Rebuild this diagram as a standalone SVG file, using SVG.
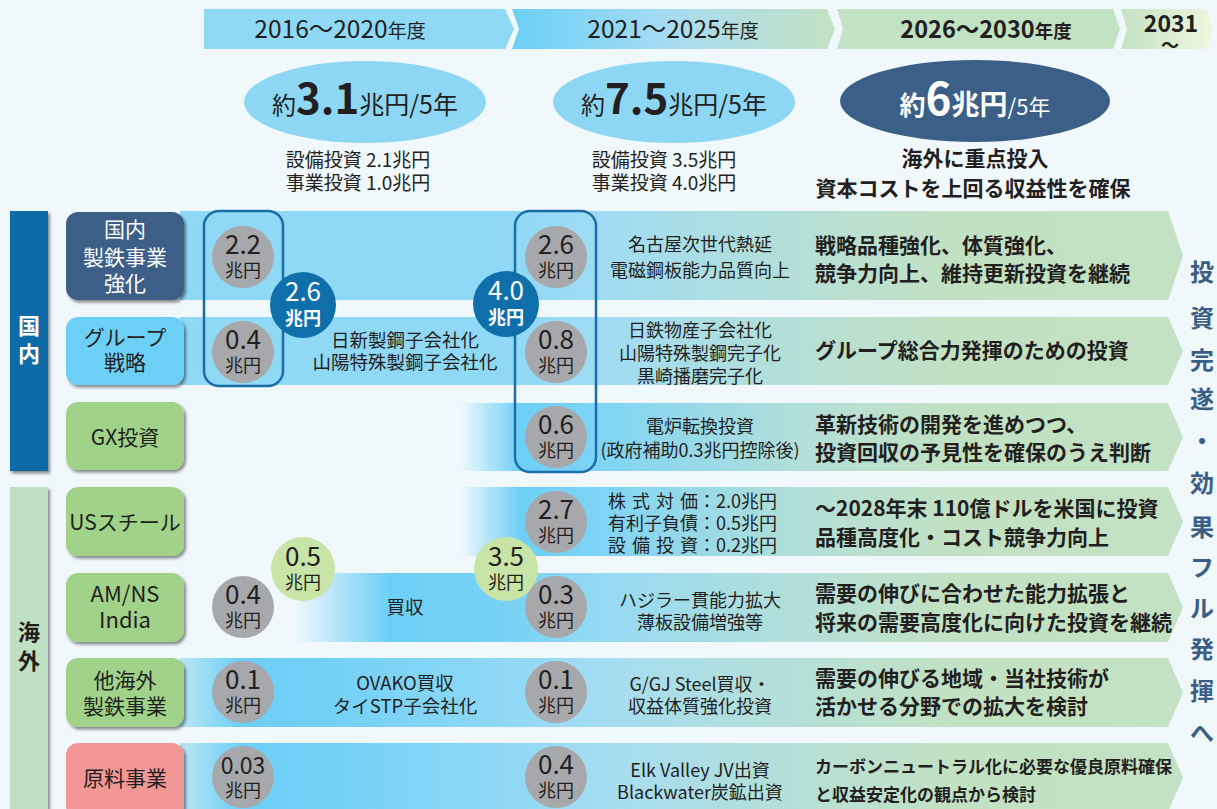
<svg xmlns="http://www.w3.org/2000/svg" width="1217" height="809" viewBox="0 0 1217 809">
<defs>
<style>
.t{font-family:'Noto Sans CJK JP','Noto Sans',sans-serif;fill:#231f20}
.b{font-weight:700}
.c{text-anchor:middle}
.w{fill:#ffffff}
.bub{fill:#a7a8ab}
.gb{fill:#c8e4a6}
.db{fill:#0f6fab}
.grp{fill:none;stroke:#1a6ea8;stroke-width:2.5}
.lbl{filter:url(#sh)}
.n{font-size:26px}
.u{font-size:18px}
</style>
<filter id="sh" x="-10%" y="-10%" width="130%" height="130%"><feDropShadow dx="2" dy="2.5" stdDeviation="1.8" flood-color="#000" flood-opacity="0.45"/></filter>
<linearGradient id="hg2" gradientUnits="userSpaceOnUse" x1="512" y1="0" x2="835" y2="0"><stop offset="0" stop-color="#6dcff6"/><stop offset="0.5" stop-color="#a8dcf2"/><stop offset="1" stop-color="#c3e2c4"/></linearGradient>
<linearGradient id="hg4" gradientUnits="userSpaceOnUse" x1="1121" y1="0" x2="1213" y2="0"><stop offset="0" stop-color="#c3e2c4"/><stop offset="1" stop-color="#eff6df"/></linearGradient>
<linearGradient id="gA" gradientUnits="userSpaceOnUse" x1="185" y1="0" x2="1183" y2="0"><stop offset="0" stop-color="#8fd8f6"/><stop offset="0.32" stop-color="#8fd8f6"/><stop offset="0.42" stop-color="#a0dcf3"/><stop offset="0.62" stop-color="#b6dfd6"/><stop offset="0.77" stop-color="#c2e1c3"/><stop offset="1" stop-color="#c3e2c4"/></linearGradient>
<linearGradient id="gB" gradientUnits="userSpaceOnUse" x1="185" y1="0" x2="1183" y2="0"><stop offset="0.2756" stop-color="#6dcff6" stop-opacity="0"/><stop offset="0.336" stop-color="#6dcff6"/><stop offset="0.42" stop-color="#80d4f5"/><stop offset="0.62" stop-color="#b4dfd8"/><stop offset="0.77" stop-color="#c2e1c3"/><stop offset="1" stop-color="#c3e2c4"/></linearGradient>
<linearGradient id="gC" gradientUnits="userSpaceOnUse" x1="185" y1="0" x2="1183" y2="0"><stop offset="0.108" stop-color="#6dcff6" stop-opacity="0"/><stop offset="0.205" stop-color="#6dcff6"/><stop offset="0.32" stop-color="#76d1f5"/><stop offset="0.42" stop-color="#96daf4"/><stop offset="0.62" stop-color="#b4dfd8"/><stop offset="0.77" stop-color="#c2e1c3"/><stop offset="1" stop-color="#c3e2c4"/></linearGradient>
<linearGradient id="gD" gradientUnits="userSpaceOnUse" x1="185" y1="0" x2="1183" y2="0"><stop offset="0" stop-color="#b5e4f6"/><stop offset="0.055" stop-color="#6dcff6"/><stop offset="0.135" stop-color="#72d0f6"/><stop offset="0.32" stop-color="#8fd8f6"/><stop offset="0.42" stop-color="#a5ddf2"/><stop offset="0.62" stop-color="#b6dfd6"/><stop offset="0.77" stop-color="#c2e1c3"/><stop offset="1" stop-color="#c3e2c4"/></linearGradient>
</defs>
<rect width="1217" height="809" fill="#f1f8fc"/>

<g id="header">
<polygon points="204,9 505,9 514,29 505,49 204,49" fill="#8fd8f6"/>
<polygon points="512,9 827,9 835,29 827,49 512,49 519,29" fill="url(#hg2)"/>
<polygon points="837,9 1113,9 1120,29 1113,49 837,49 843,29" fill="#c2e2c4"/>
<polygon points="1121,9 1207,9 1213,29 1207,49 1121,49 1127,29" fill="url(#hg4)"/>
<text class="t c" x="340" y="38" font-size="24.5">2016～2020<tspan font-size="19">年度</tspan></text>
<text class="t c" x="673" y="38" font-size="24.5">2021～2025<tspan font-size="19">年度</tspan></text>
<text class="t c b" x="986" y="38" font-size="23.5">2026～2030<tspan font-size="18.5">年度</tspan></text>
<text class="t c b" x="1171" y="32" font-size="23">2031</text>
<text class="t c b" x="1170" y="52" font-size="18">～</text>
</g>

<g id="period-2016">
<ellipse cx="365" cy="102" rx="121" ry="41" fill="#8dd7f5"/>
<text class="t c" x="365" y="114"><tspan font-size="24">約</tspan><tspan font-size="42" font-weight="700">3.1</tspan><tspan font-size="25">兆円/5年</tspan></text>
<text class="t c" x="358" y="167" font-size="19">設備投資 2.1兆円</text>
<text class="t c" x="358" y="190" font-size="19">事業投資 1.0兆円</text>
</g>
<g id="period-2021">
<ellipse cx="674" cy="102" rx="121" ry="41" fill="#8dd7f5"/>
<text class="t c" x="674" y="114"><tspan font-size="24">約</tspan><tspan font-size="42" font-weight="700">7.5</tspan><tspan font-size="25">兆円/5年</tspan></text>
<text class="t c" x="664" y="167" font-size="19">設備投資 3.5兆円</text>
<text class="t c" x="664" y="190" font-size="19">事業投資 4.0兆円</text>
</g>
<g id="period-2026">
<ellipse cx="975" cy="101" rx="135" ry="41" fill="#3c5f88"/>
<text class="c" x="975" y="115" fill="#ffffff" font-family="'Noto Sans CJK JP','Noto Sans',sans-serif"><tspan font-size="26" font-weight="700">約</tspan><tspan font-size="44" font-weight="700">6</tspan><tspan font-size="28" font-weight="700">兆円</tspan><tspan font-size="22">/5年</tspan></text>
<text class="t c b" x="975" y="166" font-size="21">海外に重点投入</text>
<text class="t c b" x="973" y="196" font-size="21">資本コストを上回る収益性を確保</text>
</g>

<g id="row-arrows">
<polygon points="180,211 1168,211 1183,255.5 1168,300 180,300" fill="url(#gA)"/>
<polygon points="180,317 1168,317 1183,351 1168,385 180,385" fill="url(#gA)"/>
<polygon points="460,403 1168,403 1183,437 1168,471 460,471" fill="url(#gB)"/>
<polygon points="460,487 1168,487 1183,521.5 1168,556 460,556" fill="url(#gB)"/>
<polygon points="293,573 1168,573 1183,607.5 1168,642 293,642" fill="url(#gC)"/>
<polygon points="180,658 1168,658 1183,692.5 1168,727 180,727" fill="url(#gD)"/>
<polygon points="180,743 1168,743 1183,777.5 1168,812 180,812" fill="url(#gD)"/>
</g>

<g id="category-domestic">
<rect x="10" y="211" width="38" height="260" fill="#0f6ca7" class="lbl"/>
<text class="t b c w" x="29" y="334" font-size="22">国</text>
<text class="t b c w" x="29" y="362" font-size="22">内</text>
</g>
<g id="category-overseas">
<rect x="10" y="487" width="38" height="330" fill="#c0e0c3" class="lbl"/>
<text class="t b c" x="29" y="640" font-size="22">海</text>
<text class="t b c" x="29" y="669" font-size="22">外</text>
</g>

<g id="label-domestic-steel">
<rect x="66" y="212" width="118" height="88" rx="12" fill="#3c5e87" class="lbl"/>
<text class="t c w" x="125" y="237" font-size="21">国内</text>
<text class="t c w" x="125" y="265" font-size="21">製鉄事業</text>
<text class="t c w" x="125" y="291" font-size="21">強化</text>
</g>
<g id="label-group">
<rect x="66" y="317" width="118" height="68" rx="12" fill="#6ccff6" class="lbl"/>
<text class="t c" x="125" y="345" font-size="21">グループ</text>
<text class="t c" x="125" y="370" font-size="21">戦略</text>
</g>
<g id="label-gx">
<rect x="66" y="402" width="118" height="68" rx="12" fill="#a0d28a" class="lbl"/>
<text class="t c" x="125" y="445" font-size="21">GX投資</text>
</g>
<g id="label-us">
<rect x="66" y="487" width="118" height="69" rx="12" fill="#a0d28a" class="lbl"/>
<text class="t c" x="125" y="530" font-size="21">USスチール</text>
</g>
<g id="label-amns">
<rect x="66" y="573" width="118" height="69" rx="12" fill="#a0d28a" class="lbl"/>
<text class="t c" x="125" y="602" font-size="22">AM/NS</text>
<text class="t c" x="125" y="628" font-size="22">India</text>
</g>
<g id="label-other">
<rect x="66" y="658" width="118" height="69" rx="12" fill="#a0d28a" class="lbl"/>
<text class="t c" x="125" y="688" font-size="21">他海外</text>
<text class="t c" x="125" y="714" font-size="21">製鉄事業</text>
</g>
<g id="label-raw">
<rect x="66" y="743" width="118" height="75" rx="12" fill="#f29796" class="lbl"/>
<text class="t c" x="125" y="786" font-size="21">原料事業</text>
</g>

<g id="group-2016">
<rect x="204" y="211" width="79" height="175" rx="15" class="grp"/>
</g>
<g id="group-2021">
<rect x="515" y="211" width="81" height="261" rx="15" class="grp"/>
</g>

<g id="mid-texts">
<text class="t c" x="405" y="347" font-size="18.5">日新製鋼子会社化</text>
<text class="t c" x="405" y="369" font-size="18.5">山陽特殊製鋼子会社化</text>
<text class="t c" x="405" y="614" font-size="18.5">買収</text>
<text class="t c" x="405" y="690" font-size="18.5">OVAKO買収</text>
<text class="t c" x="405" y="713" font-size="18.5">タイSTP子会社化</text>
<text class="t c" x="700" y="251" font-size="18">名古屋次世代熱延</text>
<text class="t c" x="700" y="277" font-size="18">電磁鋼板能力品質向上</text>
<text class="t c" x="700" y="337" font-size="18">日鉄物産子会社化</text>
<text class="t c" x="700" y="360" font-size="18">山陽特殊製鋼完子化</text>
<text class="t c" x="700" y="383" font-size="18">黒崎播磨完子化</text>
<text class="t c" x="700" y="433" font-size="18">電炉転換投資</text>
<text class="t c" x="700" y="457" font-size="18">(政府補助0.3兆円控除後)</text>
<text class="t" x="608 626 632 650 656 674 680 698" y="508" font-size="18">株 式 対 価：2.0兆円</text>
<text class="t" x="608" y="530" font-size="18">有利子負債：0.5兆円</text>
<text class="t" x="608 626 632 650 656 674 680 698" y="552" font-size="18">設 備 投 資：0.2兆円</text>
<text class="t c" x="700" y="607" font-size="18">ハジラー貫能力拡大</text>
<text class="t c" x="700" y="629" font-size="18">薄板設備増強等</text>
<text class="t c" x="700" y="691" font-size="18">G/GJ Steel買収・</text>
<text class="t c" x="700" y="713" font-size="18">収益体質強化投資</text>
<text class="t c" x="700" y="777" font-size="18">Elk Valley JV出資</text>
<text class="t c" x="700" y="799" font-size="18">Blackwater炭鉱出資</text>
</g>

<g id="bubbles">
<g id="b-2016-domestic"><circle cx="243" cy="257" r="31" class="bub"/><text class="t c n" x="243" y="254">2.2</text><text class="t c u" x="243" y="277">兆円</text></g>
<g id="b-2016-group"><circle cx="243" cy="352" r="31" class="bub"/><text class="t c n" x="243" y="349">0.4</text><text class="t c u" x="243" y="372">兆円</text></g>
<g id="b-2016-total"><circle cx="303" cy="305" r="33" class="db"/><text class="c n" x="303" y="301" fill="#fff" font-family="'Noto Sans CJK JP','Noto Sans',sans-serif">2.6</text><text class="c b u" x="303" y="325" fill="#fff" font-family="'Noto Sans CJK JP','Noto Sans',sans-serif">兆円</text></g>
<g id="b-2021-total"><circle cx="506" cy="304" r="33" class="db"/><text class="c n" x="506" y="300" fill="#fff" font-family="'Noto Sans CJK JP','Noto Sans',sans-serif">4.0</text><text class="c b u" x="506" y="324" fill="#fff" font-family="'Noto Sans CJK JP','Noto Sans',sans-serif">兆円</text></g>
<g id="b-2021-domestic"><circle cx="556" cy="257" r="31" class="bub"/><text class="t c n" x="556" y="254">2.6</text><text class="t c u" x="556" y="277">兆円</text></g>
<g id="b-2021-group"><circle cx="556" cy="352" r="31" class="bub"/><text class="t c n" x="556" y="349">0.8</text><text class="t c u" x="556" y="372">兆円</text></g>
<g id="b-2021-gx"><circle cx="556" cy="437" r="31" class="bub"/><text class="t c n" x="556" y="434">0.6</text><text class="t c u" x="556" y="457">兆円</text></g>
<g id="b-2016-overseas"><circle cx="303" cy="569" r="32" class="gb"/><text class="t c n" x="303" y="566">0.5</text><text class="t c u" x="303" y="589">兆円</text></g>
<g id="b-2021-overseas"><circle cx="506" cy="569" r="32" class="gb"/><text class="t c n" x="506" y="566">3.5</text><text class="t c u" x="506" y="589">兆円</text></g>
<g id="b-2021-us"><circle cx="556" cy="522" r="31" class="bub"/><text class="t c n" x="556" y="519">2.7</text><text class="t c u" x="556" y="542">兆円</text></g>
<g id="b-2016-amns"><circle cx="243" cy="607" r="31" class="bub"/><text class="t c n" x="243" y="604">0.4</text><text class="t c u" x="243" y="627">兆円</text></g>
<g id="b-2021-amns"><circle cx="556" cy="607" r="31" class="bub"/><text class="t c n" x="556" y="604">0.3</text><text class="t c u" x="556" y="627">兆円</text></g>
<g id="b-2016-other"><circle cx="243" cy="692" r="31" class="bub"/><text class="t c n" x="243" y="689">0.1</text><text class="t c u" x="243" y="712">兆円</text></g>
<g id="b-2021-other"><circle cx="556" cy="692" r="31" class="bub"/><text class="t c n" x="556" y="689">0.1</text><text class="t c u" x="556" y="712">兆円</text></g>
<g id="b-2016-raw"><circle cx="243" cy="777" r="31" class="bub"/><text class="t c" x="243" y="774" font-size="23">0.03</text><text class="t c u" x="243" y="797">兆円</text></g>
<g id="b-2021-raw"><circle cx="556" cy="777" r="31" class="bub"/><text class="t c n" x="556" y="774">0.4</text><text class="t c u" x="556" y="797">兆円</text></g>
</g>

<g id="policy-texts">
<text class="t b" x="815" y="253" font-size="21">戦略品種強化、体質強化、</text>
<text class="t b" x="815" y="281" font-size="21">競争力向上、維持更新投資を継続</text>
<text class="t b" x="815" y="358" font-size="21">グループ総合力発揮のための投資</text>
<text class="t b" x="815" y="432" font-size="21">革新技術の開発を進めつつ、</text>
<text class="t b" x="815" y="460" font-size="21">投資回収の予見性を確保のうえ判断</text>
<text class="t b" x="815" y="516" font-size="21">～2028年末 110億ドルを米国に投資</text>
<text class="t b" x="815" y="545" font-size="21">品種高度化・コスト競争力向上</text>
<text class="t b" x="815" y="601" font-size="21">需要の伸びに合わせた能力拡張と</text>
<text class="t b" x="815" y="630" font-size="21">将来の需要高度化に向けた投資を継続</text>
<text class="t b" x="815" y="686" font-size="21">需要の伸びる地域・当社技術が</text>
<text class="t b" x="815" y="714" font-size="21">活かせる分野での拡大を検討</text>
<text class="t b" x="815" y="773" font-size="17">カーボンニュートラル化に必要な優良原料確保</text>
<text class="t b" x="815" y="801" font-size="17">と収益安定化の観点から検討</text>
</g>

<g id="goal">
<text class="b c" font-size="24" fill="#3b5e87" font-family="'Noto Sans CJK JP','Noto Sans',sans-serif"><tspan x="1202" y="281">投</tspan><tspan x="1202" y="327">資</tspan><tspan x="1202" y="369">完</tspan><tspan x="1202" y="408">遂</tspan><tspan x="1202" y="450">・</tspan><tspan x="1202" y="492">効</tspan><tspan x="1202" y="536">果</tspan><tspan x="1202" y="576">フ</tspan><tspan x="1202" y="617">ル</tspan><tspan x="1202" y="658">発</tspan><tspan x="1202" y="700">揮</tspan><tspan x="1202" y="742">へ</tspan></text>
</g>
</svg>
